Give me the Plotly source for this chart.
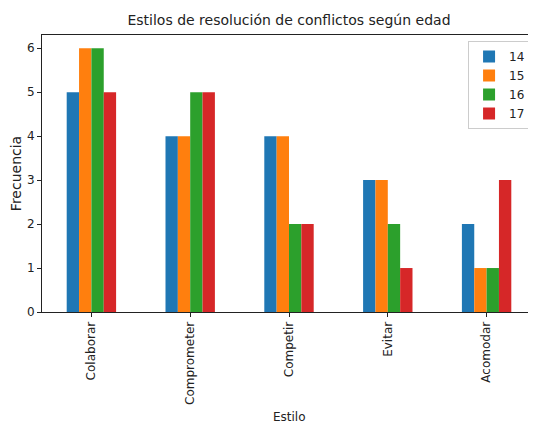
import plotly.graph_objects as go

categories = ["Colaborar", "Comprometer", "Competir", "Evitar", "Acomodar"]
series_names = ["14", "15", "16", "17"]
v14 = [5, 4, 4, 3, 2]
v15 = [6, 4, 4, 3, 1]
v16 = [6, 5, 2, 2, 1]
v17 = [5, 5, 2, 1, 3]
colors = ["#1f77b4", "#ff7f0e", "#2ca02c", "#d62728"]

fig = go.Figure()
for name, vals, c in zip(series_names, [v14, v15, v16, v17], colors):
    fig.add_trace(go.Bar(x=categories, y=vals, name=name, marker=dict(color=c, line=dict(width=0))))

W, H = 528, 416
L, T, B = 34, 27, 112
PH = H - T - B

axis_common = dict(showline=True, linecolor="#222222", linewidth=1, automargin=False,
                   ticks="outside", ticklen=4, tickcolor="#222222", showgrid=False, zeroline=False,
                   tickfont=dict(size=12, color="#222222"))
fig.update_layout(
    width=W, height=H,
    margin=dict(l=L, r=0, t=T, b=B, pad=0),
    plot_bgcolor="white", paper_bgcolor="white",
    font=dict(family="DejaVu Sans", size=12, color="#222222"),
    title=dict(text="Estilos de resolución de conflictos según edad", x=0.5, xanchor="center",
               xref="paper", y=1 - 12 / H, yref="container", yanchor="middle", font=dict(size=14)),
    barmode="group", bargap=0.5, bargroupgap=0,
    showlegend=True,
    legend=dict(x=0.99, y=1 - 6 / PH, xanchor="right", yanchor="top", bordercolor="#cccccc",
                borderwidth=1, bgcolor="white", font=dict(size=12), itemwidth=30),
    xaxis=dict(tickangle=-90, range=[-0.5, 4.5], mirror=True, **axis_common),
    yaxis=dict(title=dict(text="Frecuencia", standoff=7), range=[0, 6.3], dtick=1, mirror=False,
               **axis_common),
    annotations=[dict(text="Estilo", x=0.5, xref="paper", y=-(409 - (H - B)) / PH, yref="paper",
                      xanchor="center", yanchor="middle", showarrow=False, font=dict(size=12))],
)
fig.write_html("out.html")
